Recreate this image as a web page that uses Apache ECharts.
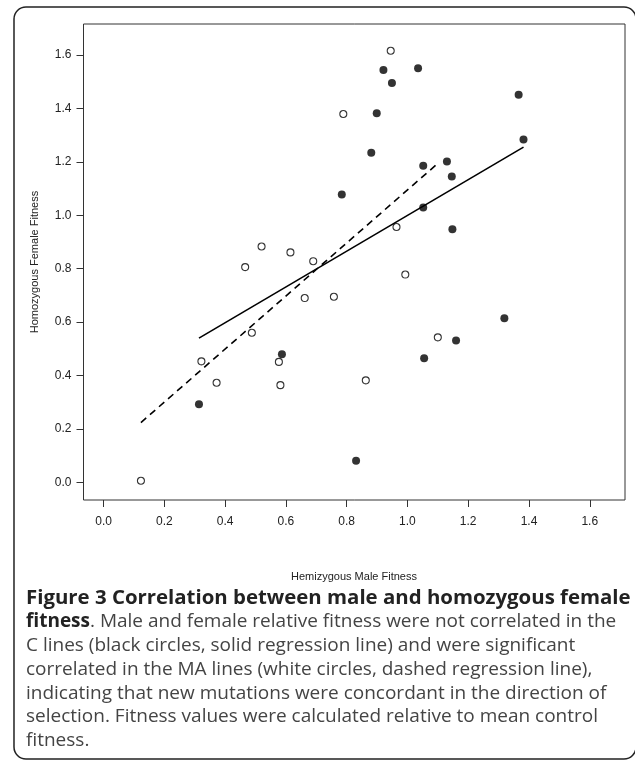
<!DOCTYPE html>
<html>
<head>
<meta charset="utf-8">
<script src="https://cdn.jsdelivr.net/npm/echarts@6/dist/echarts.min.js"></script>
<style>
html,body{margin:0;padding:0;background:#fff;}
#chart{width:635px;height:761px;}
</style>
</head>
<body>
<div id="chart"></div>
<script>
// C lines (black, filled circles)
const cMale = [0.921, 0.949, 1.035, 1.366, 1.382, 0.899, 0.881, 0.784, 1.052, 1.130, 1.146, 1.052, 1.148, 0.587, 0.314, 0.831, 1.319, 1.160, 1.055];
const cFemale = [1.544, 1.495, 1.550, 1.451, 1.284, 1.382, 1.234, 1.078, 1.185, 1.201, 1.145, 1.029, 0.948, 0.480, 0.292, 0.081, 0.614, 0.531, 0.465];
// MA lines (white, open circles)
const maMale = [0.945, 0.789, 0.466, 0.520, 0.615, 0.690, 0.662, 0.758, 0.964, 0.993, 0.322, 0.372, 0.488, 0.577, 0.582, 0.123, 1.100, 0.863];
const maFemale = [1.616, 1.379, 0.806, 0.883, 0.861, 0.828, 0.690, 0.695, 0.956, 0.778, 0.453, 0.373, 0.560, 0.451, 0.364, 0.006, 0.543, 0.382];
// regression line end points
const cLineX = [0.314, 1.382];
const cLineY = [0.540, 1.255];
const maLineX = [0.123, 1.100];
const maLineY = [0.224, 1.194];
// ticks
const tickValues = [0.0, 0.2, 0.4, 0.6, 0.8, 1.0, 1.2, 1.4, 1.6];
const axisMin = -0.066, axisMax = 1.716;
const xTitle = 'Hemizygous Male Fitness';
const yTitle = 'Homozygous Female Fitness';
const captionLines = [
  '{b|Figure 3 Correlation between male and homozygous female}',
  '{b|fitness}. Male and female relative fitness were not correlated in the',
  'C lines (black circles, solid regression line) and were significant',
  'correlated in the MA lines (white circles, dashed regression line),',
  'indicating that new mutations were concordant in the direction of',
  'selection. Fitness values were calculated relative to mean control',
  'fitness.'
];

const zip = (a, b) => a.map((v, i) => [v, b[i]]);
const chart = echarts.init(document.getElementById('chart'), null, {renderer: 'canvas'});

const axisCommon = (margin) => ({
  type: 'value', min: axisMin, max: axisMax,
  axisLine: {show: false, onZero: false},
  splitLine: {show: false},
  axisTick: {show: true, length: 7, customValues: tickValues, lineStyle: {color: '#333', width: 1}},
  axisLabel: {show: true, customValues: tickValues, margin: margin, color: '#222',
    fontFamily: 'Liberation Sans', fontSize: 12, formatter: v => v.toFixed(1)}
});

const capFont = 'Open Sans';
const graphics = [{
  type: 'rect', shape: {x: 14, y: 7, width: 622, height: 752, r: 12},
  style: {fill: 'none', stroke: '#222', lineWidth: 1.5}, z: 0
}, {
  type: 'text', x: 354, y: 577,
  style: {text: xTitle, font: '11px "Liberation Sans"', fill: '#222', textAlign: 'center', textVerticalAlign: 'middle'}
}, {
  type: 'text', x: 35, y: 262, rotation: Math.PI / 2,
  style: {text: yTitle, font: '11px "Liberation Sans"', fill: '#222', textAlign: 'center', textVerticalAlign: 'middle'}
}];
captionLines.forEach((t, i) => {
  graphics.push({
    type: 'text', x: 26, y: 598 + i * 23.8,
    style: {
      text: t, fontFamily: capFont, fontSize: 19, fill: '#444',
      textVerticalAlign: 'middle',
      rich: {b: {fontFamily: capFont, fontSize: i === 0 ? 20.4 : 19, fontWeight: 'bold', fill: '#222'}}
    }
  });
});

chart.setOption({
  animation: false,
  grid: {left: 83.5, right: 10, top: 24, bottom: 261, show: true, borderColor: '#333', borderWidth: 1, backgroundColor: 'transparent'},
  xAxis: axisCommon(16),
  yAxis: axisCommon(12),
  graphic: graphics,
  series: [{
    type: 'scatter', data: zip(maMale, maFemale), symbol: 'circle', symbolSize: 7,
    itemStyle: {color: 'rgba(255,255,255,0)', borderColor: '#000', borderWidth: 1.1}, z: 3
  }, {
    type: 'scatter', data: zip(cMale, cFemale), symbol: 'circle', symbolSize: 8,
    itemStyle: {color: '#000'}, z: 3
  }, {
    type: 'line', data: zip(cLineX, cLineY), showSymbol: false, symbol: 'none',
    lineStyle: {color: '#000', width: 1.6, type: 'solid'}, z: 2
  }, {
    type: 'line', data: zip(maLineX, maLineY), showSymbol: false, symbol: 'none',
    lineStyle: {color: '#000', width: 1.6, type: [7, 5]}, z: 2
  }]
});
</script>
</body>
</html>
